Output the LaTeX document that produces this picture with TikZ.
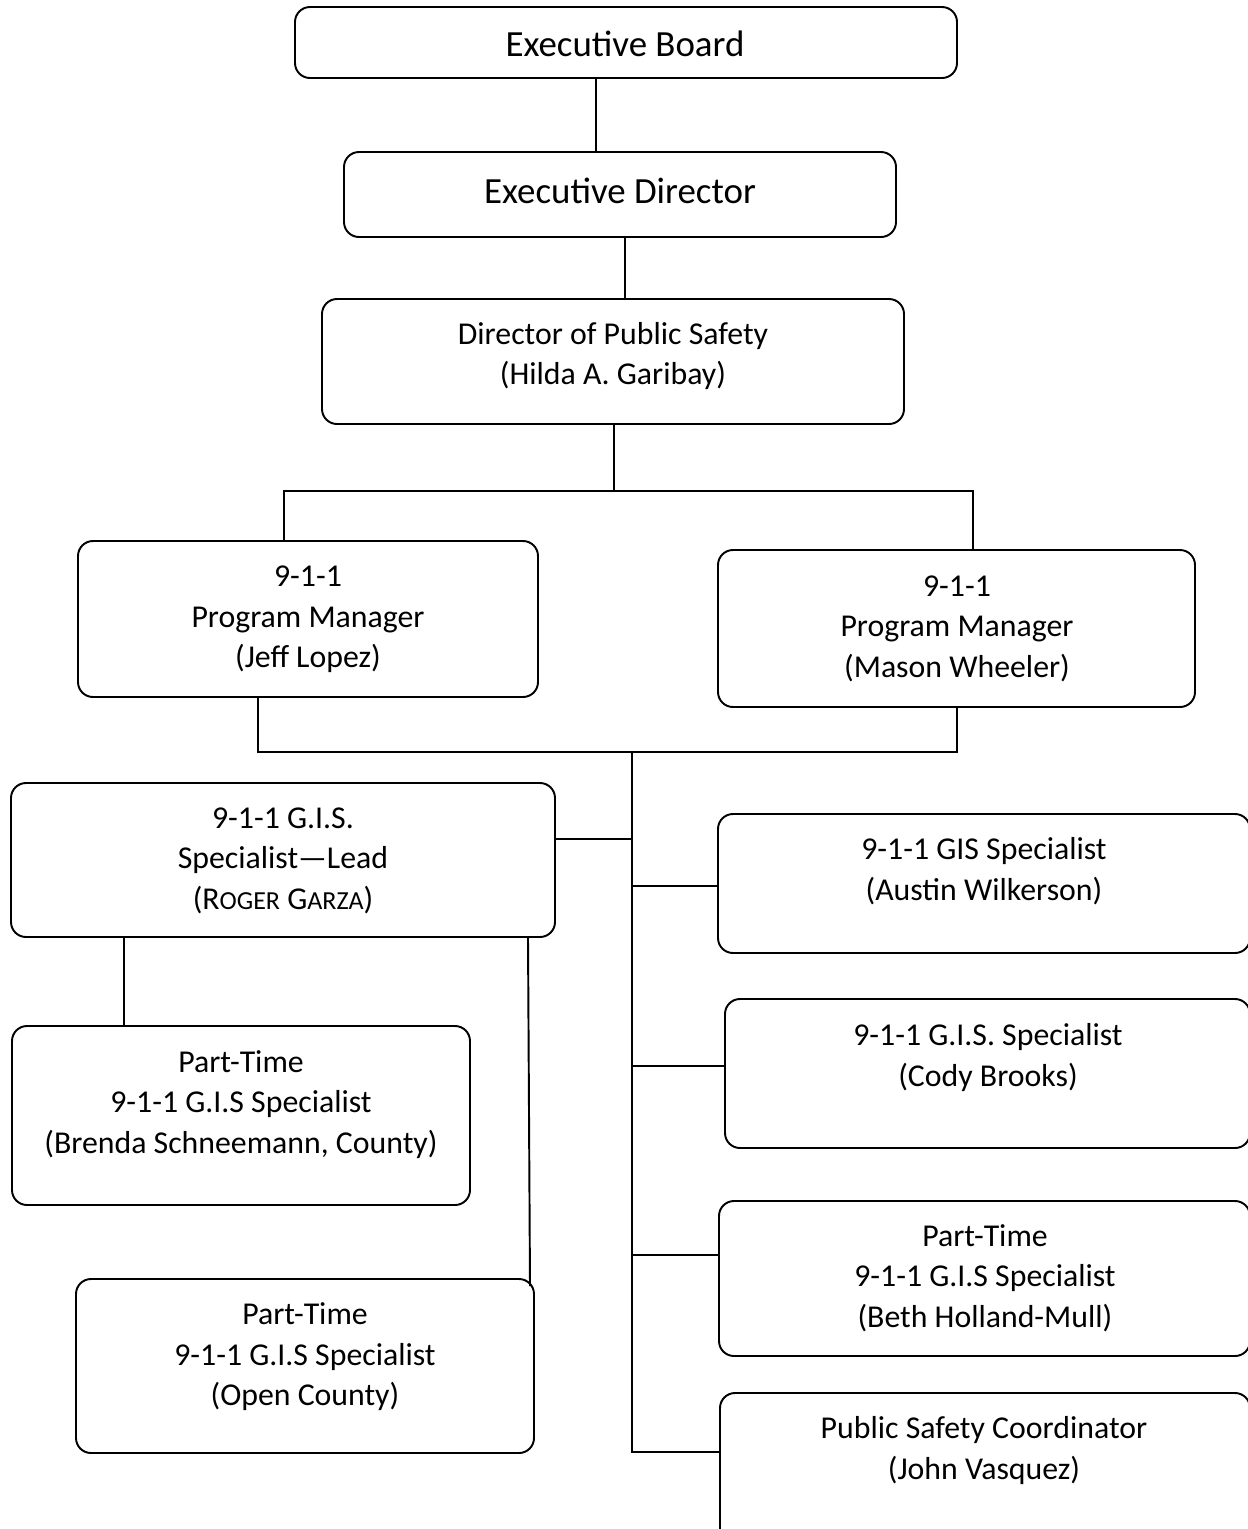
\documentclass[tikz,border=0pt]{standalone}
\usepackage{fontspec}
\setmainfont{Carlito}
\newcommand\smallcap[1]{{\fontsize{14.8}{23}\selectfont #1}}
\begin{document}
\begin{tikzpicture}[x=0.02cm,y=-0.02cm,
  box/.style={draw, line width=1.1pt, rounded corners=0.3cm, inner sep=0pt},
  wh/.style 2 args={minimum width=#1*0.02cm, minimum height=#2*0.02cm},
  txt/.style={align=center, font=\fontsize{18.1}{23}\selectfont, inner sep=0pt},
  bigtxt/.style={align=center, font=\fontsize{21}{25}\selectfont, inner sep=0pt},
  link/.style={line width=1.1pt}]
\useasboundingbox (0,0) rectangle (1248,1529);
\clip (0,0) rectangle (1248,1529);

% boxes
\node[box, wh={662}{71}]  (eb)     at (626,42.5)    {};
\node[box, wh={552}{85}]  (ed)     at (620,194.5)   {};
\node[box, wh={582}{125}] (dps)    at (613,361.5)   {};
\node[box, wh={460}{156}] (pmA)    at (308,619)     {};
\node[box, wh={477}{157}] (pmB)    at (956.5,628.5) {};
\node[box, wh={544}{154}] (lead)   at (283,860)     {};
\node[box, wh={532}{139}] (austin) at (984,883.5)   {};
\node[box, wh={525}{149}] (cody)   at (987.5,1073.5){};
\node[box, wh={531}{155}] (beth)   at (984.5,1278.5){};
\node[box, wh={530}{152}] (john)   at (985,1469)    {};
\node[box, wh={458}{179}] (brenda) at (241,1115.5)  {};
\node[box, wh={458}{174}] (open)   at (305,1366)    {};

% labels
\node[bigtxt] (ebT) at (625,44)  {Executive Board};
\node[bigtxt] (edT) at (620,191) {Executive Director};
\node[txt] (dpsT) at (613,356) {Director of Public Safety\\(Hilda A. Garibay)};
\node[txt] (pmAT) at (308,619.5) {9-1-1\\Program Manager\\(Jeff Lopez)};
\node[txt] (pmBT) at (957,628.5) {9-1-1\\Program Manager\\(Mason Wheeler)};
\node[txt] (leadT) at (283,860.5) {9-1-1 G.I.S.\\Specialist—Lead\\(R\smallcap{OGER} G\smallcap{ARZA})};
\node[txt] (austinT) at (984,871) {9-1-1 GIS Specialist\\(Austin Wilkerson)};
\node[txt] (codyT) at (988,1057.5) {9-1-1 G.I.S. Specialist\\(Cody Brooks)};
\node[txt] (bethT) at (985,1278) {Part-Time\\9-1-1 G.I.S Specialist\\(Beth Holland-Mull)};
\node[txt] (johnT) at (984,1450.5) {Public Safety Coordinator\\(John Vasquez)};
\node[txt] (brendaT) at (241,1104.5) {Part-Time\\9-1-1 G.I.S Specialist\\(Brenda Schneemann, County)};
\node[txt] (openT) at (305,1357) {Part-Time\\9-1-1 G.I.S Specialist\\(Open County)};

% connectors
\draw[link] (596,0 |- eb.south) -- (596,0 |- ed.north);
\draw[link] (625,0 |- ed.south) -- (625,0 |- dps.north);
\draw[link] (614,0 |- dps.south) -- (614,491);
\draw[link] (284,0 |- pmA.north) |- (973,491) -- (973,0 |- pmB.north);
\draw[link] (258,0 |- pmA.south) |- (957,752) -- (957,0 |- pmB.south);
\coordinate (trunkTop) at (632,752);
\coordinate (trunkEnd) at (632,1452);
\draw[link] (trunkTop) -- (trunkEnd) -- (john.west |- trunkEnd);
\draw[link] (lead.east |- 0,839) -- (632,839);
\draw[link] (632,886)  -- (austin.west |- 0,886);
\draw[link] (632,1066) -- (cody.west |- 0,1066);
\draw[link] (632,1255) -- (beth.west |- 0,1255);
\draw[link] (124,0 |- lead.south) -- (124,0 |- brenda.north);
\coordinate (openJoin) at (530,1286);
\draw[link] (528,0 |- lead.south) -- (openJoin);
\end{tikzpicture}
\end{document}
